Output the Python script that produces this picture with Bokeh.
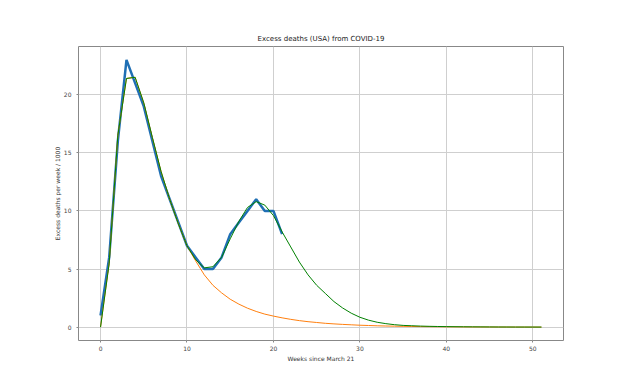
from bokeh.plotting import figure
from bokeh.models import Range1d, SingleIntervalTicker
from bokeh.embed import file_html
from bokeh.resources import INLINE

# Observed excess deaths (thousands per week)
weeks_obs = list(range(22))
deaths_obs = [1, 6, 16, 23, 21, 19, 16, 13, 11, 9, 7, 6, 5, 5, 6, 8, 9, 10, 11, 10, 10, 8]

# Model curves
weeks_model = list(range(52))
model_first_wave = [0, 5.5, 16.5, 21.4, 21.5, 19.3, 16.3, 13.4, 11.0, 8.9,
                    7.0, 5.7, 4.5, 3.6, 2.95, 2.4, 1.98, 1.63, 1.35, 1.12,
                    0.95, 0.8, 0.67, 0.56, 0.47, 0.4, 0.33, 0.28, 0.235, 0.2,
                    0.165, 0.14, 0.115, 0.097, 0.082, 0.068, 0.057, 0.048, 0.04, 0.034,
                    0.028, 0.024, 0.02, 0.017, 0.014, 0.012, 0.01, 0.008, 0.007, 0.006,
                    0.005, 0.004]
model_total = [0, 5.5, 16.5, 21.4, 21.5, 19.3, 16.3, 13.4, 11.0, 8.9,
               7.0, 5.8, 5.1, 5.2, 6.0, 7.6, 9.1, 10.3, 10.8, 10.5,
               9.6, 8.2, 6.9, 5.6, 4.5, 3.6, 2.9, 2.2, 1.65, 1.2,
               0.85, 0.6, 0.42, 0.3, 0.21, 0.15, 0.12, 0.09, 0.07, 0.055,
               0.045, 0.037, 0.03, 0.025, 0.02, 0.016, 0.013, 0.011, 0.009, 0.008,
               0.007, 0.006]

FONT = "DejaVu Sans"

p = figure(width=625, height=382, output_backend="svg", toolbar_location=None,
           title="Excess deaths (USA) from COVID-19",
           x_range=Range1d(-2.55, 53.55), y_range=Range1d(-1.15, 24.15),
           min_border_left=78, min_border_right=62, min_border_top=46, min_border_bottom=42)

p.title.text_font = FONT
p.title.text_font_size = "7px"
p.title.text_font_style = "normal"
p.title.text_color = "#222222"
p.title.align = "center"
p.title.standoff = 7

p.outline_line_color = "#888888"
p.outline_line_width = 1

for ax in (p.xaxis, p.yaxis):
    ax.axis_line_color = None
    ax.major_tick_line_color = "#888888"
    ax.major_tick_out = 2
    ax.major_tick_in = 0
    ax.minor_tick_line_color = None
    ax.major_label_text_font = FONT
    ax.major_label_text_font_size = "6px"
    ax.major_label_text_color = "#444444"
    ax.axis_label_text_font = FONT
    ax.axis_label_text_font_size = "6px"
    ax.axis_label_text_font_style = "normal"
    ax.axis_label_text_color = "#333333"

p.xaxis.major_label_standoff = 1
p.xaxis.axis_label_standoff = 1
p.yaxis.major_label_standoff = 3
p.yaxis.axis_label_standoff = 0

p.xaxis.ticker = SingleIntervalTicker(interval=10)
p.yaxis.ticker = SingleIntervalTicker(interval=5)
p.xaxis.axis_label = "Weeks since March 21"
p.yaxis.axis_label = "Excess deaths per week / 1000"

p.grid.grid_line_color = "#cfcfcf"
p.grid.grid_line_width = 1

p.line(weeks_obs, deaths_obs, line_color="#1f6fb4", line_width=2.5)
p.line(weeks_model, model_first_wave, line_color="#ff7f0e", line_width=1)
p.line(weeks_model, model_total, line_color="#008000", line_width=1)

open("out.html", "w").write(file_html(p, INLINE))
